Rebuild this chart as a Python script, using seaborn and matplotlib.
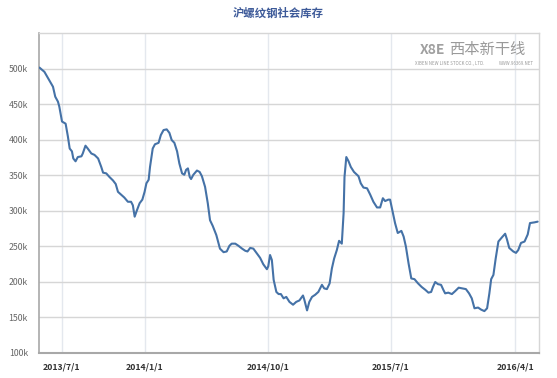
import matplotlib
matplotlib.use("Agg")
import matplotlib.pyplot as plt
import seaborn as sns
import pandas as pd

# ---------------- data ----------------
dates = [
    "2013-05-13", "2013-05-24", "2013-06-04", "2013-06-12", "2013-06-17", "2013-06-23",
    "2013-06-26", "2013-07-02", "2013-07-10", "2013-07-15", "2013-07-19", "2013-07-24",
    "2013-07-27", "2013-08-01", "2013-08-06", "2013-08-14", "2013-08-17", "2013-08-23",
    "2013-08-28", "2013-09-05", "2013-09-12", "2013-09-20", "2013-09-27", "2013-10-01",
    "2013-10-08", "2013-10-15", "2013-10-23", "2013-10-29", "2013-11-03", "2013-11-10",
    "2013-11-17", "2013-11-25", "2013-12-02", "2013-12-06", "2013-12-10", "2013-12-15",
    "2013-12-21", "2013-12-27", "2014-01-01", "2014-01-05", "2014-01-10", "2014-01-13",
    "2014-01-19", "2014-01-24", "2014-02-01", "2014-02-06", "2014-02-12", "2014-02-19",
    "2014-02-25", "2014-03-02", "2014-03-08", "2014-03-14", "2014-03-19", "2014-03-25",
    "2014-03-30", "2014-04-03", "2014-04-07", "2014-04-11", "2014-04-14", "2014-04-19",
    "2014-04-27", "2014-05-03", "2014-05-08", "2014-05-15", "2014-05-21", "2014-05-26",
    "2014-06-01", "2014-06-09", "2014-06-17", "2014-06-25", "2014-07-02", "2014-07-08",
    "2014-07-13", "2014-07-21", "2014-07-28", "2014-08-05", "2014-08-12", "2014-08-17",
    "2014-08-23", "2014-08-30", "2014-09-07", "2014-09-14", "2014-09-21", "2014-09-29",
    "2014-10-02", "2014-10-06", "2014-10-10", "2014-10-14", "2014-10-20", "2014-10-25",
    "2014-10-30", "2014-11-05", "2014-11-11", "2014-11-18", "2014-11-26", "2014-12-03",
    "2014-12-10", "2014-12-18", "2014-12-21", "2014-12-27", "2015-01-01", "2015-01-07",
    "2015-01-14", "2015-01-21", "2015-01-29", "2015-02-03", "2015-02-09", "2015-02-15",
    "2015-02-20", "2015-02-25", "2015-03-03", "2015-03-08", "2015-03-14", "2015-03-18",
    "2015-03-20", "2015-03-24", "2015-03-29", "2015-04-03", "2015-04-10", "2015-04-20",
    "2015-04-25", "2015-05-01", "2015-05-09", "2015-05-16", "2015-05-23", "2015-05-31",
    "2015-06-07", "2015-06-13", "2015-06-18", "2015-06-25", "2015-06-29", "2015-07-04",
    "2015-07-10", "2015-07-16", "2015-07-24", "2015-07-29", "2015-08-03", "2015-08-09",
    "2015-08-15", "2015-08-22", "2015-08-30", "2015-09-07", "2015-09-15", "2015-09-22",
    "2015-09-28", "2015-10-02", "2015-10-07", "2015-10-13", "2015-10-20", "2015-10-25",
    "2015-10-29", "2015-11-05", "2015-11-13", "2015-11-20", "2015-11-28", "2015-12-06",
    "2015-12-14", "2015-12-21", "2015-12-27", "2016-01-02", "2016-01-10", "2016-01-17",
    "2016-01-24", "2016-01-30", "2016-02-04", "2016-02-08", "2016-02-13", "2016-02-18",
    "2016-02-24", "2016-03-03", "2016-03-10", "2016-03-14", "2016-03-19", "2016-03-28",
    "2016-04-03", "2016-04-08", "2016-04-14", "2016-04-22", "2016-04-29", "2016-05-04",
    "2016-05-14", "2016-05-21",
]
inventory_k = [
    502, 496, 484, 475, 461, 454, 447, 426, 423, 405, 388, 384,
    374, 370, 376, 377, 381, 392, 388, 381, 379, 374, 362, 354,
    353, 348, 343, 338, 327, 323, 319, 313, 313, 308, 292, 301,
    311, 316, 327, 339, 344, 362, 388, 394, 396, 407, 414, 415,
    410, 400, 396, 384, 367, 353, 351, 358, 360, 348, 345, 351,
    357, 355, 349, 334, 311, 287, 279, 266, 247, 242, 243, 251,
    254, 254, 251, 247, 244, 243, 248, 247, 240, 234, 225, 218,
    222, 238, 231, 203, 186, 183, 183, 177, 179, 172, 168, 172,
    174, 181, 175, 160, 172, 179, 182, 186, 196, 191, 190, 198,
    219, 233, 245, 258, 254, 297, 348, 376, 370, 362, 355, 349,
    339, 333, 332, 323, 313, 305, 305, 318, 314, 316, 316, 301,
    283, 269, 272, 264, 250, 226, 205, 204, 198, 193, 189, 185,
    186, 193, 200, 197, 196, 189, 184, 185, 183, 187, 192, 191,
    190, 184, 177, 163, 164, 161, 159, 163, 184, 204, 210, 233,
    257, 263, 268, 260, 248, 243, 241, 245, 255, 257, 267, 283,
    284, 285,
]
x_tick_dates = ["2013-07-01", "2014-01-01", "2014-10-01", "2015-07-01", "2016-04-01"]
x_tick_labels = ["2013/7/1", "2014/1/1", "2014/10/1", "2015/7/1", "2016/4/1"]
y_ticks = [100000, 150000, 200000, 250000, 300000, 350000, 400000, 450000, 500000]
y_tick_labels = ["100k", "150k", "200k", "250k", "300k", "350k", "400k", "450k", "500k"]
title = "沪螺纹钢社会库存"

df = pd.DataFrame({"date": pd.to_datetime(dates),
                   "inventory": [v * 1000 for v in inventory_k]})

# ---------------- figure ----------------
sns.set_theme(style="white")
plt.rcParams["font.family"] = ["Noto Sans CJK SC", "DejaVu Sans"]

fig = plt.figure(figsize=(5.57, 3.78), dpi=100)
ax = fig.add_axes([39 / 557, 1 - 353 / 378, 500 / 557, 320 / 378])

sns.lineplot(data=df, x="date", y="inventory", ax=ax, color="#4572A7",
             linewidth=1.5, zorder=3)

ax.set_xlim(pd.Timestamp("2013-05-12"), pd.Timestamp("2016-05-24"))
ax.set_ylim(100000, 550700)

ax.set_yticks(y_ticks)
ax.set_yticklabels(y_tick_labels)
ax.set_xticks(pd.to_datetime(x_tick_dates))
ax.set_xticklabels(x_tick_labels)

ax.set_xlabel("")
ax.set_ylabel("")

ax.grid(axis="y", color="#d6d6d6", linewidth=1.0)
ax.grid(axis="x", color="#e4e8ee", linewidth=1.0)
ax.set_axisbelow(True)

for side in ["top", "right"]:
    ax.spines[side].set_color("#d6d6d6")
    ax.spines[side].set_linewidth(1.0)
ax.spines["left"].set_color("#a8a8a8")
ax.spines["left"].set_linewidth(1.2)
ax.spines["bottom"].set_color("#a8a8a8")
ax.spines["bottom"].set_linewidth(1.5)

ax.tick_params(axis="y", length=0, pad=8, labelsize=6.3, labelcolor="#666666")
ax.tick_params(axis="x", length=5, width=1, color="#e4e8ee", pad=2,
               labelsize=6.3, labelcolor="#333333")
for lbl in ax.get_xticklabels():
    lbl.set_fontweight("bold")

fig.text(0.5, 1 - 13 / 378, title, ha="center", va="center",
         fontsize=8.2, fontweight="bold", color="#3d5a99")

# watermark logo text
ax.text(0.972, 0.947, "西本新干线", transform=ax.transAxes, ha="right", va="center",
        fontsize=11, color="#9a9a9a", zorder=2)
ax.text(0.812, 0.947, "X8E", transform=ax.transAxes, ha="right", va="center",
        fontsize=10, color="#a0a0a0", fontweight="bold", zorder=2)
ax.text(0.752, 0.906, "XIBEN NEW LINE STOCK CO., LTD.", transform=ax.transAxes,
        ha="left", va="center", fontsize=3.2, color="#9a9a9a", zorder=2)
ax.text(0.99, 0.906, "WWW.96369.NET", transform=ax.transAxes,
        ha="right", va="center", fontsize=3.2, color="#9a9a9a", zorder=2)

fig.savefig("out.png", dpi=100, facecolor="white")
